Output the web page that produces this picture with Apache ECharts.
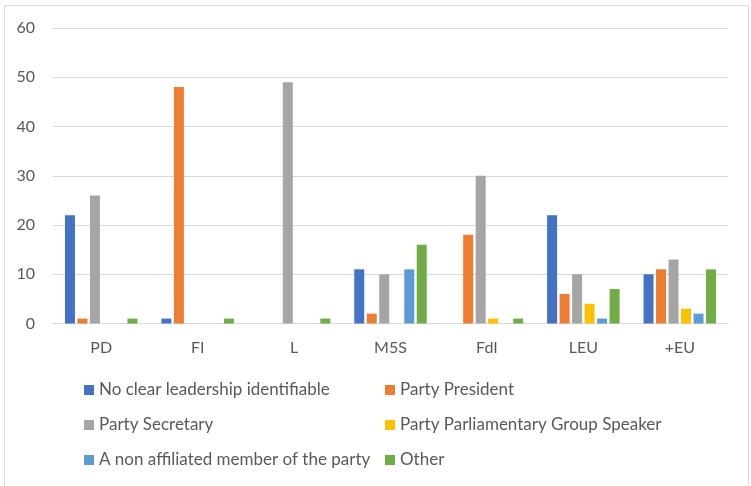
<!DOCTYPE html>
<html><head><meta charset="utf-8">
<script src="https://cdn.jsdelivr.net/npm/echarts@6/dist/echarts.min.js"></script>
<style>html,body{margin:0;padding:0;background:#fff}#c{width:751px;height:486px}</style>
</head><body><div id="c"></div>
<script>
const categories = ['PD','FI','L','M5S','FdI','LEU','+EU'];
const seriesNames = ['No clear leadership identifiable','Party President','Party Secretary','Party Parliamentary Group Speaker','A non affiliated member of the party','Other'];
const noClearLeadership = [22, 1, 0, 11, 0, 22, 10];
const partyPresident    = [1, 48, 0, 2, 18, 6, 11];
const partySecretary    = [26, 0, 49, 10, 30, 10, 13];
const groupSpeaker      = [0, 0, 0, 0, 1, 4, 3];
const nonAffiliated     = [0, 0, 0, 11, 0, 1, 2];
const other             = [1, 1, 1, 16, 1, 7, 11];
const colors = ['#4472C4','#ED7D31','#A5A5A5','#FFC000','#5B9BD5','#70AD47'];
const values = [noClearLeadership, partyPresident, partySecretary, groupSpeaker, nonAffiliated, other];

const font = 'Lato';
const chart = echarts.init(document.getElementById('c'));
const legendBase = {
  orient: 'vertical', top: 380, padding: 0, itemWidth: 10, itemHeight: 10, icon: 'rect', itemGap: 15,
  textStyle: {fontFamily: font, fontSize: 17, color: '#595959', lineHeight: 20}
};
chart.setOption({
  animation: false,
  color: colors,
  graphic: [{type: 'rect', shape: {x: 4.5, y: 5.5, width: 744, height: 500}, style: {fill: 'none', stroke: '#d9d9d9', lineWidth: 1}}],
  grid: {left: 53, right: 23, top: 28, bottom: 162.5},
  legend: [
    Object.assign({left: 84, data: [seriesNames[0], seriesNames[2], seriesNames[4]]}, legendBase),
    Object.assign({left: 385, data: [seriesNames[1], seriesNames[3], seriesNames[5]]}, legendBase)
  ],
  xAxis: {
    type: 'category', data: categories,
    axisLine: {lineStyle: {color: '#d9d9d9', width: 1}},
    axisTick: {show: false},
    axisLabel: {fontFamily: font, fontSize: 16, color: '#595959', margin: 16}
  },
  yAxis: {
    type: 'value', min: 0, max: 60, interval: 10,
    axisLine: {show: false}, axisTick: {show: false},
    splitLine: {lineStyle: {color: '#d9d9d9', width: 1}},
    axisLabel: {fontFamily: font, fontSize: 16, color: '#595959', margin: 18}
  },
  series: seriesNames.map((n, i) => ({
    name: n, type: 'bar', data: values[i], barWidth: 10, barGap: '25%',
    itemStyle: {color: colors[i]}
  }))
});
</script></body></html>
